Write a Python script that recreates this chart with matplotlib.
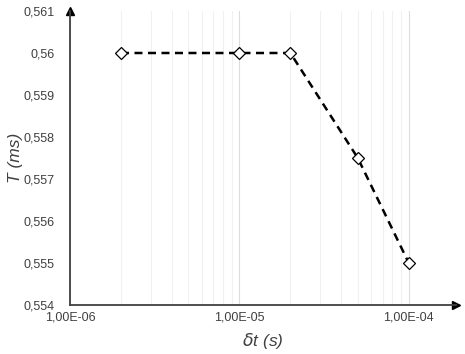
import numpy as np
import matplotlib.pyplot as plt
from matplotlib.ticker import FixedLocator, LogLocator, NullFormatter

plt.rcParams['font.family'] = ['Liberation Sans', 'DejaVu Sans']

# datos
dt = [2e-6, 1e-5, 2e-5, 5e-5, 1e-4]
T = [0.560, 0.560, 0.560, 0.5575, 0.555]
xtick_vals = [1e-6, 1e-5, 1e-4]
xtick_labels = ['1,00E-06', '1,00E-05', '1,00E-04']
ytick_vals = [0.554, 0.555, 0.556, 0.557, 0.558, 0.559, 0.560, 0.561]
ytick_labels = ['0,554', '0,555', '0,556', '0,557', '0,558', '0,559', '0,56', '0,561']

fig = plt.figure(figsize=(4.65, 3.54), dpi=100)
ax = fig.add_axes([70/465, 49/354, 386/465, 294/354])

ax.plot(dt, T, color='black', lw=1.8, ls=(0, (3.2, 2.2)),
        marker='D', markersize=6, markerfacecolor='white',
        markeredgecolor='black', markeredgewidth=0.9, zorder=3)

ax.set_xscale('log')
ax.set_xlim(1e-6, 1.9e-4)
ax.set_ylim(0.554, 0.561)

ax.xaxis.set_major_locator(FixedLocator(xtick_vals))
ax.set_xticklabels(xtick_labels)
ax.xaxis.set_minor_locator(LogLocator(base=10, subs=np.arange(2, 10)))
ax.xaxis.set_minor_formatter(NullFormatter())
ax.set_yticks(ytick_vals)
ax.set_yticklabels(ytick_labels)

ax.grid(True, which='major', axis='x', color='#dcdcdc', lw=0.8)
ax.grid(True, which='minor', axis='x', color='#f0f0f0', lw=0.8)
ax.set_axisbelow(True)

ax.tick_params(axis='both', which='both', length=0, labelsize=9, colors='#404040')
ax.tick_params(axis='x', pad=5)
ax.tick_params(axis='y', pad=11)

for s in ['top', 'right']:
    ax.spines[s].set_visible(False)
for s in ['left', 'bottom']:
    ax.spines[s].set_color('#404040')
    ax.spines[s].set_linewidth(1.3)

# flechas de los ejes
ax.plot(0, 1, marker='^', color='black', markersize=6, transform=ax.transAxes, clip_on=False)
ax.plot(1, 0, marker='>', color='black', markersize=6, transform=ax.transAxes, clip_on=False)

ax.set_xlabel(r'$\delta$t (s)', fontsize=12.5, style='italic', color='#404040', labelpad=5)
ax.set_ylabel('T (ms)', fontsize=12.5, style='italic', color='#404040', labelpad=0)

plt.savefig('out.png')
